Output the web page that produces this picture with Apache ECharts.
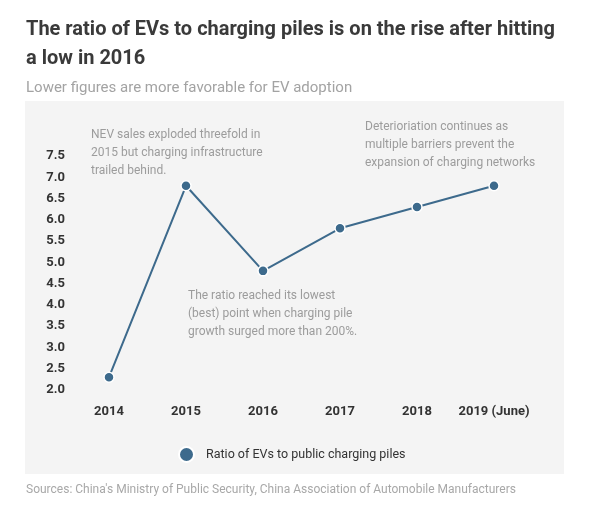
<!DOCTYPE html>
<html>
<head>
<meta charset="utf-8">
<script src="https://cdn.jsdelivr.net/npm/echarts@6/dist/echarts.min.js"></script>
<style>
  html, body { margin: 0; padding: 0; background: #fff; }
  #chart { width: 589px; height: 517px; }
</style>
</head>
<body>
<div id="chart"></div>
<script>
// data
var years = ['2014', '2015', '2016', '2017', '2018', '2019 (June)'];
var ratio = [2.3, 6.8, 4.8, 5.8, 6.3, 6.8];
var seriesName = 'Ratio of EVs to public charging piles';

var titleText = 'The ratio of EVs to charging piles is on the rise after hitting\na low in 2016';
var subText = 'Lower figures are more favorable for EV adoption';
var sourceText = "Sources: China's Ministry of Public Security, China Association of Automobile Manufacturers";

var notes = [
    'NEV sales exploded threefold in\n2015 but charging infrastructure\ntrailed behind.',
    'The ratio reached its lowest\n(best) point when charging pile\ngrowth surged more than 200%.',
    'Deterioriation continues as\nmultiple barriers prevent the\nexpansion of charging networks'
];

var FONT = 'Roboto, "Noto Sans", sans-serif';
var lineColor = '#3d6a8c';

function noteText(txt, x, y){
    return {
        type: 'text',
        x: x,
        y: y,
        z: 5,
        style: {
            text: txt,
            fill: '#9c9c9c',
            font: '12px ' + FONT,
            lineHeight: 18,
            verticalAlign: 'top'
        }
    };
}

var chart = echarts.init(document.getElementById('chart'));

var option = {
    backgroundColor: '#fff',
    textStyle: { fontFamily: FONT },
    title: [
        {
            text: titleText,
            left: 26, top: 15, padding: 0,
            textStyle: { fontSize: 20, fontWeight: 'bold', color: '#3a3a3a', lineHeight: 29, fontFamily: FONT }
        },
        {
            text: subText,
            left: 26, top: 79, padding: 0,
            textStyle: { fontSize: 15, fontWeight: 'normal', color: '#a3a3a3', lineHeight: 18, fontFamily: FONT }
        },
        {
            text: sourceText,
            left: 26, top: 482, padding: 0,
            textStyle: { fontSize: 12, fontWeight: 'normal', color: '#a8a8a8', lineHeight: 16, fontFamily: FONT }
        }
    ],
    graphic: [
        {
            type: 'rect',
            z: -10,
            shape: { x: 25, y: 101, width: 539, height: 373 },
            style: { fill: '#f4f4f4' }
        },
        noteText(notes[0], 91, 126),
        noteText(notes[1], 188, 287),
        noteText(notes[2], 365, 118)
    ],
    legend: {
        data: [seriesName],
        left: 178,
        top: 446,
        icon: 'circle',
        itemWidth: 15,
        itemHeight: 15,
        padding: 0,
        textStyle: { fontSize: 12.5, color: '#333', padding: [0, 0, 0, 7], fontFamily: FONT }
    },
    grid: {
        left: 109,
        right: 95,
        top: 156,
        bottom: 127,
        containLabel: false
    },
    xAxis: {
        type: 'category',
        data: years,
        boundaryGap: false,
        axisLine: { show: false },
        axisTick: { show: false },
        splitLine: { show: false },
        axisLabel: {
            interval: 0,
            hideOverlap: false,
            margin: 15,
            fontSize: 13,
            fontWeight: 'bold',
            color: '#333',
            fontFamily: FONT
        }
    },
    yAxis: {
        type: 'value',
        min: 2,
        max: 7.5,
        interval: 0.5,
        axisLine: { show: false },
        axisTick: { show: false },
        splitLine: { show: false },
        axisLabel: {
            margin: 44,
            fontSize: 13,
            fontWeight: 'bold',
            color: '#333',
            fontFamily: FONT,
            formatter: function(v){ return v.toFixed(1); }
        }
    },
    series: [
        {
            name: seriesName,
            type: 'line',
            data: ratio,
            color: lineColor,
            symbol: 'circle',
            symbolSize: 10,
            lineStyle: { width: 2, color: lineColor },
            itemStyle: { color: lineColor, borderColor: '#fff', borderWidth: 1.5 },
            emphasis: { disabled: true },
            animation: false
        }
    ],
    animation: false
};

chart.setOption(option);
</script>
</body>
</html>
